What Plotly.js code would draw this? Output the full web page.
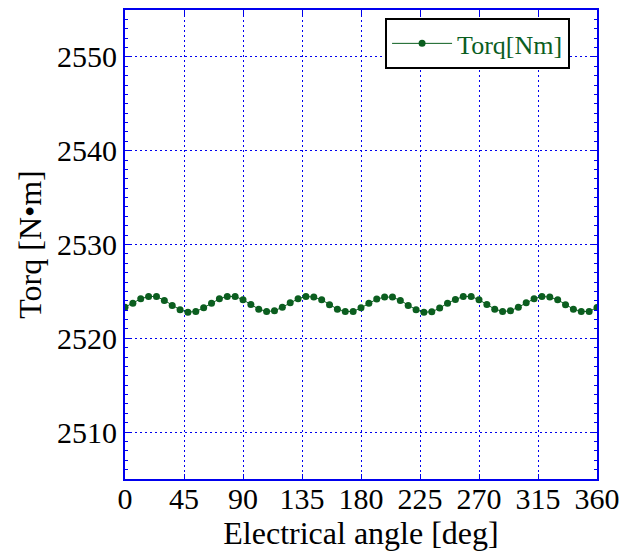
<!DOCTYPE html>
<html>
<head>
<meta charset="utf-8">
<script src="https://cdn.plot.ly/plotly-3.0.1.min.js"></script>
<style>html,body{margin:0;padding:0;background:#fff;}#chart{width:621px;height:554px;}</style>
</head>
<body>
<div id="chart"></div>
<script>
const angleDeg = [0,6,12,18,24,30,36,42,48,54,60,66,72,78,84,90,96,102,108,114,120,126,132,138,144,150,156,162,168,174,180,186,192,198,204,210,216,222,228,234,240,246,252,258,264,270,276,282,288,294,300,306,312,318,324,330,336,342,348,354,360];
const torqNm = [2523.32,2523.75,2524.21,2524.46,2524.46,2524.04,2523.50,2523.04,2522.79,2522.86,
2523.25,2523.75,2524.21,2524.46,2524.46,2524.11,2523.61,2523.11,2522.86,2522.93,
2523.32,2523.79,2524.21,2524.46,2524.39,2524.11,2523.57,2523.11,2522.86,2522.86,
2523.25,2523.75,2524.18,2524.39,2524.39,2524.04,2523.50,2523.04,2522.79,2522.82,
2523.22,2523.75,2524.14,2524.46,2524.46,2524.11,2523.61,2523.11,2522.86,2522.93,
2523.32,2523.79,2524.21,2524.46,2524.39,2524.11,2523.57,2523.11,2522.86,2522.86,2523.29];
const xTicks = [0,45,90,135,180,225,270,315,360];
const yTicks = [2510,2520,2530,2540,2550];
const seriesName = "Torq[Nm]";

const green = "#0b5e1f";
const blue = "#0000ee";
const font = "Liberation Serif, Times New Roman, serif";

const trace = {
  x: angleDeg, y: torqNm, type: "scatter", mode: "lines+markers", name: seriesName,
  line: {color: green, width: 1},
  marker: {color: green, size: 7}
};

const layout = {
  width: 621, height: 554,
  margin: {l: 125, r: 24, t: 10, b: 75},
  paper_bgcolor: "#fff", plot_bgcolor: "#fff",
  font: {family: font, color: "#000", size: 26},
  showlegend: true,
  legend: {
    x: 0.551, y: 0.983, xanchor: "left", yanchor: "top",
    bordercolor: "#000", borderwidth: 2, bgcolor: "#fff",
    itemwidth: 60,
    font: {family: font, size: 26, color: green}
  },
  xaxis: {
    range: [0, 360], tickvals: xTicks, ticktext: xTicks.map(String),
    showline: true, linecolor: blue, linewidth: 2, mirror: "ticks",
    ticks: "inside", ticklen: 5, tickcolor: blue, tickwidth: 1,
    ticklabelstandoff: -8,
    showgrid: true, gridcolor: blue, gridwidth: 1, griddash: "2px,3px",
    zeroline: false,
    tickfont: {family: font, size: 30, color: "#000"},
    title: {text: "Electrical angle [deg]", font: {family: font, size: 32, color: "#000"}, standoff: 2}
  },
  yaxis: {
    range: [2505, 2555], tickvals: yTicks, ticktext: yTicks.map(String),
    showline: true, linecolor: blue, linewidth: 2, mirror: "ticks",
    ticks: "inside", ticklen: 5, tickcolor: blue, tickwidth: 1,
    minor: {dtick: 1, ticks: "inside", ticklen: 3, tickcolor: blue, showgrid: false},
    showgrid: true, gridcolor: blue, gridwidth: 1, griddash: "2px,3px",
    zeroline: false,
    tickfont: {family: font, size: 30, color: "#000"},
    title: {text: "Torq [N•m]", font: {family: font, size: 32, color: "#000"}, standoff: 6}
  }
};

Plotly.newPlot("chart", [trace], layout, {displayModeBar: false, staticPlot: true});
</script>
</body>
</html>
